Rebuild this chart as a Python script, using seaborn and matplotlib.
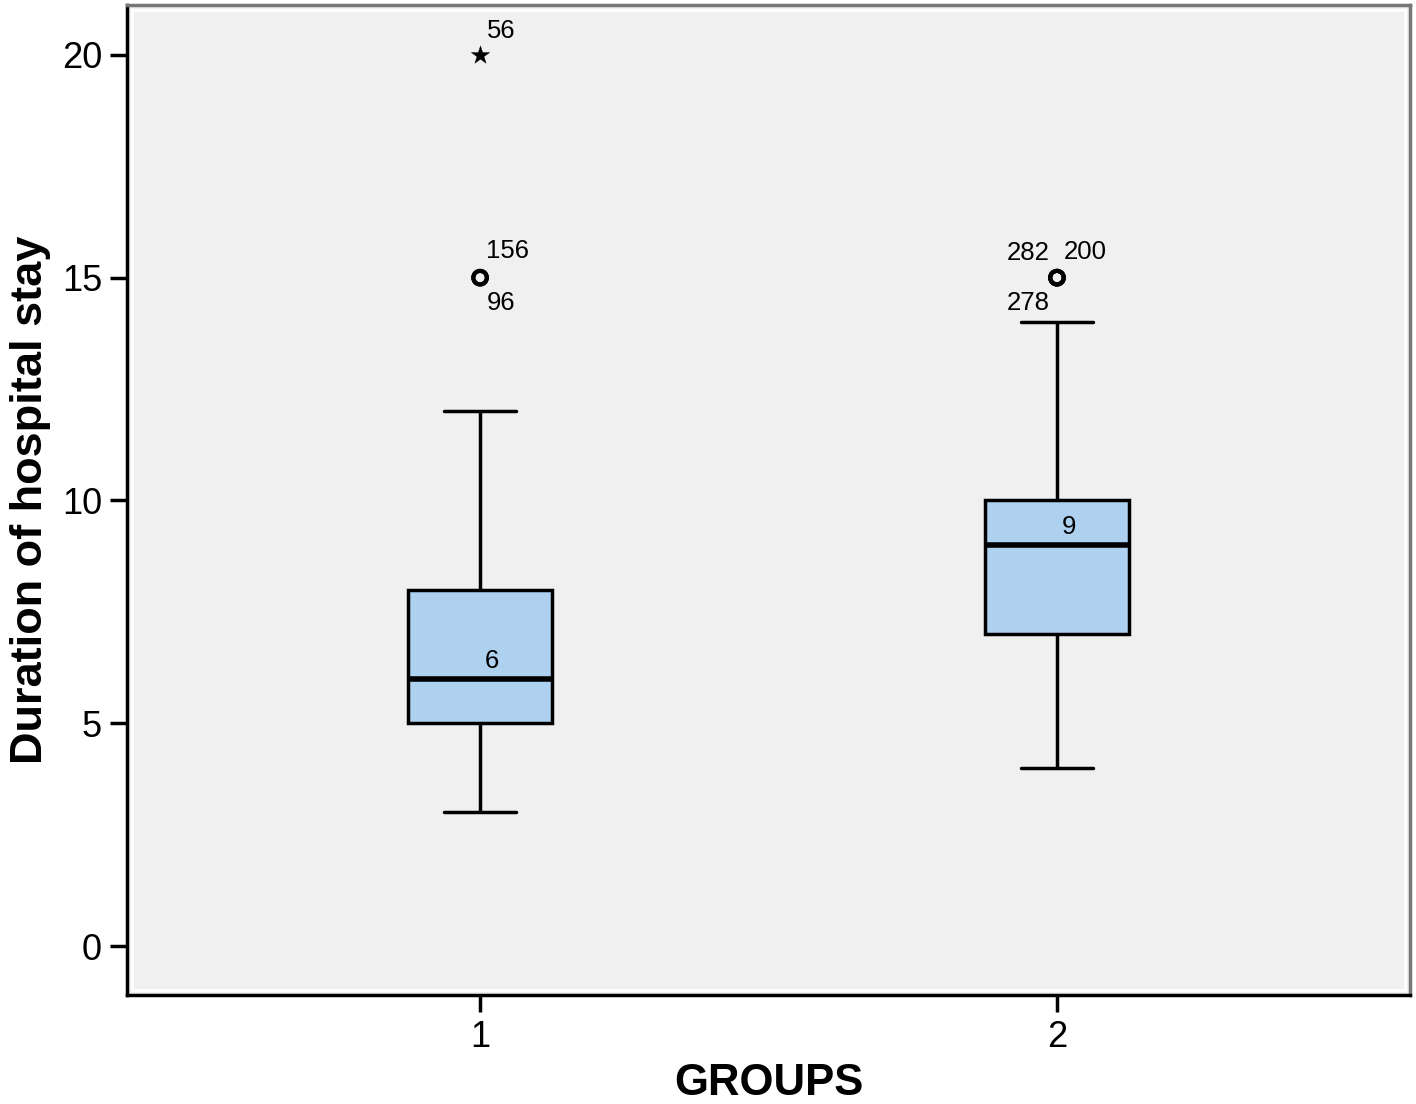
import numpy as np
import pandas as pd
import seaborn as sns
import matplotlib.pyplot as plt
from matplotlib.patches import Rectangle

# values per group (chosen so quartiles / whiskers match the chart)
group1_stay = [3, 4, 5, 5, 5, 6, 6, 6, 6, 7, 8, 8, 8, 12, 15, 15, 20]
group2_stay = [4, 6, 7, 7, 7, 8, 8, 9, 9, 9, 10, 10, 10, 14, 15, 15, 15]
groups = ["1", "2"]
medians = [6, 9]

# labelled outliers: group, value, case id
out_group = ["1", "1", "1", "2", "2", "2"]
out_value = [20, 15, 15, 15, 15, 15]
out_case = ["56", "156", "96", "282", "200", "278"]
out_extreme = [True, False, False, False, False, False]

df = pd.DataFrame({
    "GROUPS": ["1"] * len(group1_stay) + ["2"] * len(group2_stay),
    "stay": group1_stay + group2_stay,
})

sns.set_style("white")
plt.rcParams['font.family'] = ['Liberation Sans', 'DejaVu Sans']
plt.rcParams['text.color'] = 'black'
plt.rcParams['axes.labelcolor'] = 'black'
plt.rcParams['xtick.color'] = 'black'
plt.rcParams['ytick.color'] = 'black'

fig = plt.figure(figsize=(14.16, 11.04), dpi=100)
ax = fig.add_axes([0.0897, 0.0987, 0.9061, 0.8968])
ax.set_facecolor("#F0F0F0")

box_color = "#AFD1F0"
sns.boxplot(data=df, x="GROUPS", y="stay", order=groups, color=box_color,
            width=0.25, whis=1.5, showfliers=False, saturation=1,
            linecolor="black", linewidth=2.5,
            medianprops=dict(linewidth=4, color="black"), ax=ax)

# outliers
xpos = [groups.index(g) for g in out_group]
for x, v, ext in zip(xpos, out_value, out_extreme):
    if ext:
        ax.scatter(x, v, marker="*", s=190, color="black", linewidths=0.3, zorder=5)
    else:
        ax.scatter(x, v, marker="o", s=95, facecolors="none", edgecolors="black",
                   linewidths=3, zorder=5)

# case id labels (pixel offsets from the point)
offsets = {"56": (21, 24), "156": (27, 27), "96": (21, -25),
           "282": (-29, 25), "200": (28, 26), "278": (-29, -25)}
for x, v, lab in zip(xpos, out_value, out_case):
    ax.annotate(lab, (x, v), xytext=offsets[lab], textcoords="offset pixels",
                ha="center", va="center", fontsize=18.5)

# median labels
for i, m in enumerate(medians):
    ax.annotate(str(m), (i, m), xytext=(12, 18), textcoords="offset pixels",
                ha="center", va="center", fontsize=18.5)

ax.set_xlim(-0.612, 1.612)
ax.set_ylim(-1.1, 21.12)
ax.set_yticks([0, 5, 10, 15, 20])
ax.tick_params(axis="both", direction="out", length=12, width=2.5,
               labelsize=26, pad=6, left=True, bottom=True)
ax.set_xlabel("GROUPS", fontsize=31.5, fontweight="bold", labelpad=6)
ax.set_ylabel("Duration of hospital stay", fontsize=32.5, fontweight="bold", labelpad=8)

for side in ["left", "bottom"]:
    ax.spines[side].set_color("black")
    ax.spines[side].set_linewidth(2.5)
for side in ["top", "right"]:
    ax.spines[side].set_color("#777777")
    ax.spines[side].set_linewidth(2.5)

# thin white inner frame like the original
ax.add_patch(Rectangle((0.004, 0.005), 0.992, 0.99, transform=ax.transAxes,
                       fill=False, edgecolor="white", linewidth=2, zorder=0.5))

fig.savefig("out.png", dpi=100)
